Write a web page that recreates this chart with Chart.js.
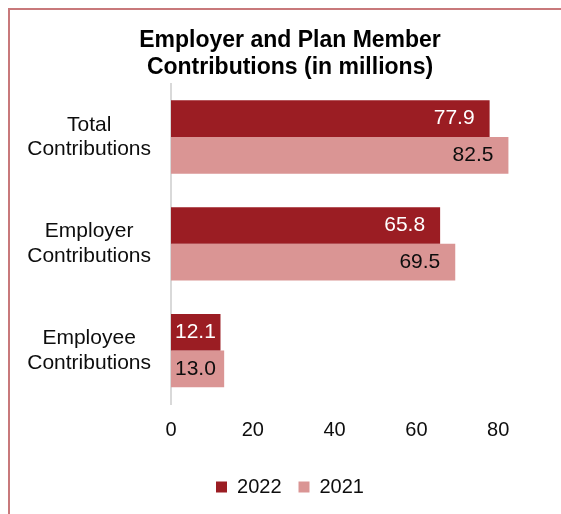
<!DOCTYPE html>
<html>
<head>
<meta charset="utf-8">
<script src="https://cdn.jsdelivr.net/npm/chart.js@4.4.1/dist/chart.umd.min.js"></script>
<style>
  html, body { margin: 0; padding: 0; background: #fff; overflow: hidden; width: 561px; height: 514px; }
  #frame { position: absolute; left: 8px; top: 8px; width: 620px; height: 540px;
           border-left: 2px solid #c8797b; border-top: 2px solid #c8797b; box-sizing: border-box; }
  #chart { position: absolute; left: 0; top: 0; }
</style>
</head>
<body>
<div id="frame"></div>
<canvas id="chart" width="580" height="514"></canvas>
<script>
// Contribution categories (two-line labels) and yearly values, in millions
const categories = [
  ['Total', 'Contributions'],
  ['Employer', 'Contributions'],
  ['Employee', 'Contributions']
];
const seriesNames = ['2022', '2021'];
const values2022 = [77.9, 65.8, 12.1];
const values2021 = [82.5, 69.5, 13.0];
const tickValues = [0, 20, 40, 60, 80];

const FONT = '"Liberation Sans", Arial, Helvetica, sans-serif';
const TEXT = '#0d0d0d';
const DARK_RED = '#9b1d23';
const PINK = '#da9594';

Chart.defaults.font.family = FONT;
Chart.defaults.color = TEXT;

// Value labels drawn inside the end of each bar
const barValueLabels = {
  id: 'barValueLabels',
  afterDatasetsDraw(chart) {
    const { ctx } = chart;
    ctx.save();
    ctx.font = '21px ' + FONT;
    ctx.textAlign = 'right';
    ctx.textBaseline = 'middle';
    chart.data.datasets.forEach((ds, i) => {
      const meta = chart.getDatasetMeta(i);
      meta.data.forEach((bar, j) => {
        const text = ds.data[j].toFixed(1);
        const w = ctx.measureText(text).width;
        const x = Math.max(bar.x - 15, bar.base + w + 4);
        ctx.fillStyle = ds.valueColor;
        ctx.fillText(text, x, bar.y);
      });
    });
    ctx.restore();
  }
};

new Chart(document.getElementById('chart'), {
  type: 'bar',
  data: {
    labels: categories,
    datasets: [
      { label: seriesNames[0], data: values2022, backgroundColor: DARK_RED, valueColor: '#ffffff',
        borderWidth: 0, categoryPercentage: 0.686, barPercentage: 1.0 },
      { label: seriesNames[1], data: values2021, backgroundColor: PINK, valueColor: TEXT,
        borderWidth: 0, categoryPercentage: 0.686, barPercentage: 1.0 }
    ]
  },
  options: {
    indexAxis: 'y',
    responsive: false,
    animation: false,
    layout: { padding: { left: 0, right: 0, top: 0, bottom: 7 } },
    plugins: {
      title: {
        display: true,
        text: ['Employer and Plan Member', 'Contributions (in millions)'],
        color: '#000',
        font: { size: 23, weight: 'bold', lineHeight: 1.187 },
        padding: { top: 27, bottom: 2 }
      },
      legend: {
        position: 'bottom',
        labels: {
          boxWidth: 11,
          boxHeight: 11,
          padding: 17,
          color: TEXT,
          font: { size: 20 }
        }
      },
      tooltip: { enabled: false }
    },
    scales: {
      x: {
        min: 0,
        max: 100,
        grid: { display: false, drawTicks: true, tickLength: 14 },
        border: { display: false },
        ticks: {
          stepSize: 20,
          padding: 0,
          maxRotation: 0,
          autoSkip: false,
          color: TEXT,
          font: { size: 20, lineHeight: 1.2 },
          callback: (v) => tickValues.includes(v) ? String(v) : ''
        },
        afterFit(scale) { scale.height = 56; }
      },
      y: {
        grid: { display: false, drawTicks: false },
        border: { display: true, color: '#d9d9d9', width: 2 },
        ticks: {
          crossAlign: 'center',
          padding: 20,
          color: TEXT,
          font: { size: 21, lineHeight: 1.157 }
        },
        afterFit(scale) { scale.width = 171; }
      }
    }
  },
  plugins: [barValueLabels]
});
</script>
</body>
</html>
